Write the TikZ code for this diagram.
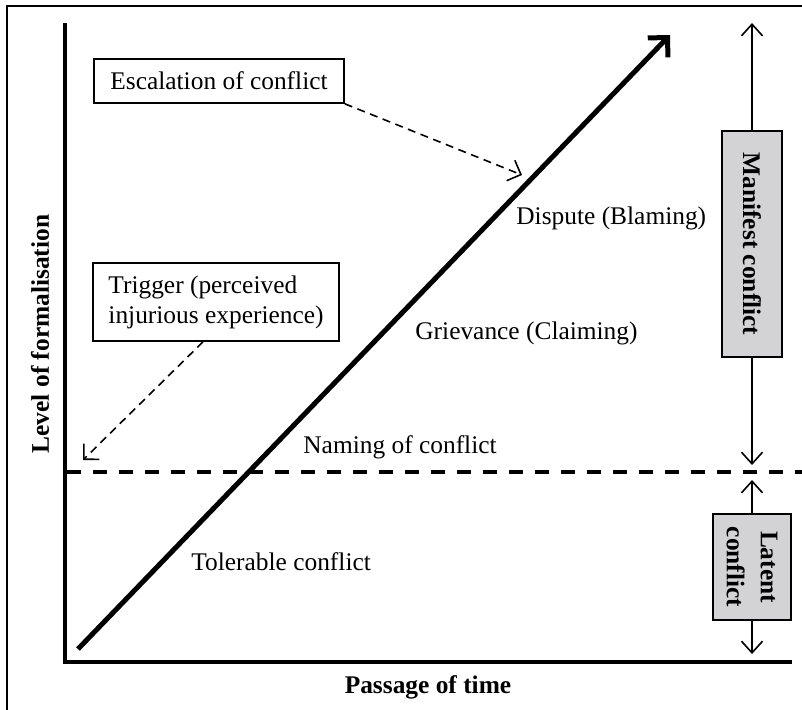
\documentclass[tikz,border=0pt]{standalone}
\usepackage{fontspec}
\setmainfont{Liberation Serif}
\usetikzlibrary{arrows.meta}
\definecolor{boxgray}{RGB}{211,211,213}
\tikzset{
  textbox/.style={draw, line width=0.8pt, inner sep=0pt},
  phasebox/.style={draw, line width=0.8pt, fill=boxgray, inner sep=0pt, rotate=-90,
    align=center, font=\fontsize{12.7}{17}\selectfont\bfseries},
  plainlabel/.style={inner sep=0pt},
  barb/.style={line width=0.8pt, -{Straight Barb[length=5.8pt,width=10.5pt]}},
  hint/.style={line width=0.8pt, dash pattern=on 4pt off 2.8pt,
    -{Straight Barb[length=5.5pt,width=11pt]}}
}
\begin{document}
\begin{tikzpicture}[x=0.5pt, y=-0.5pt, font=\fontsize{12.7}{15}\selectfont]
  \useasboundingbox (0,0) rectangle (802,709);
  \draw[line width=0.7pt] (7,715) -- (7,6) -- (810,6); % Frame

  % Axes
  \coordinate (ytop) at (65,23);
  \coordinate (origin) at (65,662);
  \coordinate (xend) at (792,662);
  \draw[line width=2pt, line join=miter] (ytop) -- (origin) -- (xend);
  \node[plainlabel, font=\fontsize{12.7}{15}\selectfont\bfseries, rotate=90] (level) at (40,334) {Level of formalisation};
  \node[plainlabel, font=\fontsize{12.7}{15}\selectfont\bfseries] (passage) at (428,687) {Passage of time};

  % Threshold between latent and manifest conflict
  \coordinate (lvlA) at (67,472);
  \coordinate (lvlB) at (806,472);
  \draw[line width=2pt, dash pattern=on 7pt off 6pt] (lvlA) -- (lvlB);

  % Escalation line
  \coordinate (start) at (78,649);
  \coordinate (tip) at (670,35);
  \draw[line width=2.5pt, -{Straight Barb[length=7pt,width=14pt]}] (start) -- (tip);

  % Stages
  \node[plainlabel, anchor=west] (toler) at (191,562) {Tolerable conflict};
  \node[plainlabel, anchor=west] (naming) at (303,447) {Naming of conflict};
  \node[plainlabel, anchor=west] (griev) at (415,333) {Grievance (Claiming)};
  \node[plainlabel, anchor=west] (dispute) at (516,218) {Dispute (Blaming)};

  % Boxed remarks
  \node[textbox, minimum width=125pt, minimum height=22pt] (esc) at (219,81) {Escalation of conflict};
  \node[textbox, align=left, minimum width=123pt, minimum height=39pt] (trig) at (216,302) {Trigger (perceived\\injurious experience)};
  \coordinate (escend) at (522,175);
  \coordinate (trigend) at (83,460);
  \draw[hint] (esc.south east) -- (escend);
  \draw[hint] ([xshift=-6.5pt]trig.south) -- (trigend);

  % Phases on the right
  \node[phasebox, minimum width=113pt, minimum height=30pt] (manifest) at (752,244) {Manifest conflict};
  \node[phasebox, minimum width=53pt, minimum height=39pt] (latent) at (752,567) {Latent\\conflict};
  \coordinate (mtop) at (752,23);
  \coordinate (mlow) at (752,465);
  \coordinate (ltop) at (752,480);
  \coordinate (llow) at (752,654);
  \draw[barb] (manifest.west) -- (mtop);
  \draw[barb] (manifest.east) -- (mlow);
  \draw[barb] (latent.west) -- (ltop);
  \draw[barb] (latent.east) -- (llow);
\end{tikzpicture}
\end{document}
